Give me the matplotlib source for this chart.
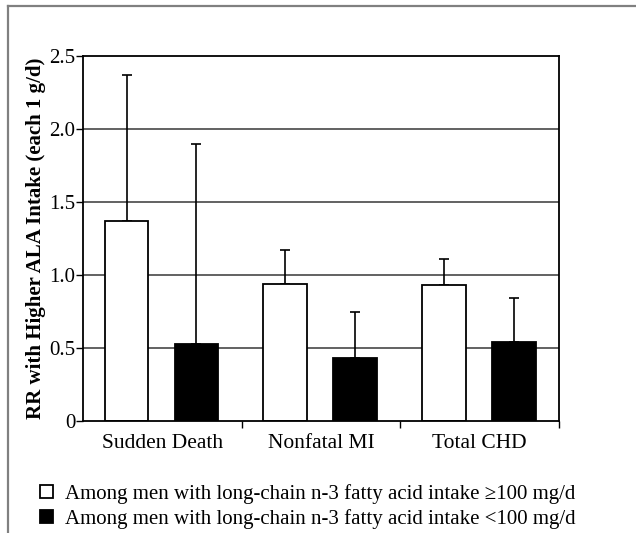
import matplotlib
matplotlib.use("Agg")
import matplotlib.pyplot as plt
import numpy as np
from matplotlib.lines import Line2D

categories = ["Sudden Death", "Nonfatal MI", "Total CHD"]
high_rr = [1.37, 0.94, 0.93]
high_upper = [2.37, 1.17, 1.11]
low_rr = [0.53, 0.43, 0.54]
low_upper = [1.90, 0.75, 0.84]
legend_labels = ["Among men with long-chain n-3 fatty acid intake \u2265100 mg/d",
                 "Among men with long-chain n-3 fatty acid intake <100 mg/d"]
yticks = [0, 0.5, 1.0, 1.5, 2.0, 2.5]
ytick_labels = ["0", "0.5", "1.0", "1.5", "2.0", "2.5"]

plt.rcParams['font.family'] = 'serif'
plt.rcParams['font.serif'] = ['Liberation Serif', 'DejaVu Serif']

fig = plt.figure(figsize=(6.36, 5.33), dpi=100)
ax = fig.add_axes([83/636, 1-421/533, 476/636, 365/533])

x = np.arange(len(categories))
w = 0.275
xh = x - 0.225
xl = x + 0.215

ax.set_axisbelow(True)
for yv in yticks[1:-1]:
    ax.axhline(yv, color='#555555', lw=1.3, zorder=0)

b1 = ax.bar(xh, high_rr, width=w, color='white', edgecolor='black', lw=1.3, zorder=2)
b2 = ax.bar(xl, low_rr, width=w, color='black', edgecolor='black', lw=1.3, zorder=2)

hr = np.array(high_rr); lr = np.array(low_rr)
ax.errorbar(xh, hr, yerr=[np.zeros_like(hr), np.array(high_upper) - hr], fmt='none',
            ecolor='black', elinewidth=1.2, capsize=3.5, capthick=1.2, zorder=1)
ax.errorbar(xl, lr, yerr=[np.zeros_like(lr), np.array(low_upper) - lr], fmt='none',
            ecolor='black', elinewidth=1.2, capsize=3.5, capthick=1.2, zorder=1)

ax.set_xlim(-0.5, 2.5)
ax.set_ylim(0, 2.5)
ax.set_yticks(yticks)
ax.set_yticklabels(ytick_labels, fontsize=15)
ax.set_xticks([0.5, 1.5, 2.5])
ax.set_xticklabels([])
ax.set_xticks(x, minor=True)
ax.set_xticklabels(categories, minor=True, fontsize=15.5)
ax.tick_params(axis='x', which='minor', length=0, pad=9)
ax.tick_params(axis='x', which='major', length=5, width=1, direction='out')
ax.tick_params(axis='y', length=5, width=1, direction='out', pad=0.5)
for s in ax.spines.values():
    s.set_linewidth(1.3)
    s.set_color('black')

ax.set_ylabel("RR with Higher ALA Intake (each 1 g/d)", fontsize=15, fontweight='bold', labelpad=2)

fig.legend([b1, b2], legend_labels, loc='upper left', bbox_to_anchor=(40/636, 1-484/533),
           frameon=False, fontsize=15, handlelength=0.6, handleheight=0.6,
           handletextpad=0.6, labelspacing=0.25, borderpad=0, borderaxespad=0)

fig.add_artist(Line2D([8/636, 1.0], [1-5.5/533, 1-5.5/533], transform=fig.transFigure,
                      color='#808080', lw=1.6))
fig.add_artist(Line2D([8/636, 8/636], [0, 1-5.5/533], transform=fig.transFigure,
                      color='#808080', lw=1.6))

fig.savefig("out.png", dpi=100)
